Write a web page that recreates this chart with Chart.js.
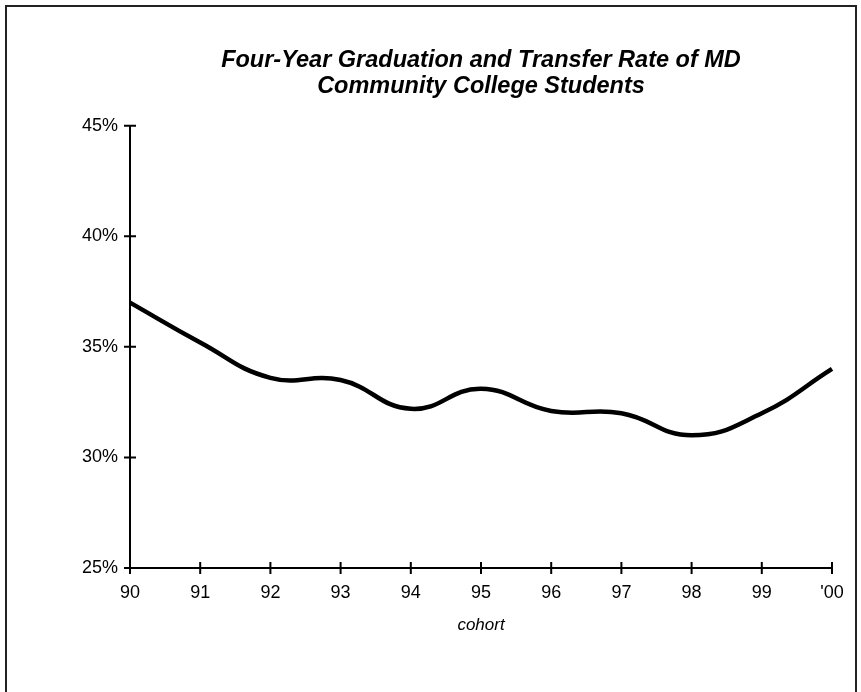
<!DOCTYPE html>
<html>
<head>
<meta charset="utf-8">
<script src="https://cdn.jsdelivr.net/npm/chart.js@4/dist/chart.umd.min.js"></script>
<style>
    html, body { margin: 0; padding: 0; background: #fff; }
    #wrap { position: relative; width: 861px; height: 692px; overflow: hidden; }
    #frame { position: absolute; left: 5px; top: 5px; width: 848px; height: 700px; border: 2px solid #222; }
    #chart { position: absolute; left: 0; top: 0; }
</style>
</head>
<body>
<div id="wrap">
    <div id="frame"></div>
    <canvas id="chart" width="861" height="692"></canvas>
</div>
<script>
// cohort years and the rate for each (%)
const cohorts = ["90", "91", "92", "93", "94", "95", "96", "97", "98", "99", "'00"];
const rates = [37.0, 35.2, 33.6, 33.5, 32.2, 33.1, 32.1, 32.0, 31.0, 32.0, 34.0];
const titleLines = ["Four-Year Graduation and Transfer Rate of MD", "Community College Students"];
const yMin = 25, yMax = 45, yStep = 5;

// ticks that cross the axis line on both sides
const crossTicks = {
    id: "crossTicks",
    afterDraw(chart) {
        const ctx = chart.ctx;
        const x = chart.scales.x, y = chart.scales.y;
        const left = chart.chartArea.left, bottom = chart.chartArea.bottom;
        ctx.save();
        ctx.strokeStyle = "#000";
        ctx.lineWidth = 2;
        ctx.beginPath();
        y.ticks.forEach((t, i) => {
            const py = y.getPixelForTick(i);
            ctx.moveTo(left - 6, py);
            ctx.lineTo(left + 6, py);
        });
        x.ticks.forEach((t, i) => {
            const px = x.getPixelForTick(i);
            ctx.moveTo(px, bottom - 6);
            ctx.lineTo(px, bottom + 6);
        });
        ctx.stroke();
        ctx.restore();
    }
};

new Chart(document.getElementById("chart"), {
    type: "line",
    data: {
        labels: cohorts,
        datasets: [{
            data: rates,
            borderColor: "#000",
            borderWidth: 4.5,
            pointRadius: 0,
            tension: 0.45,
            fill: false
        }]
    },
    options: {
        responsive: false,
        animation: false,
        layout: { padding: { left: 40, right: 29, top: 0, bottom: 57 } },
        plugins: {
            legend: { display: false },
            tooltip: { enabled: false },
            title: {
                display: true,
                fullSize: false,
                text: titleLines,
                color: "#000",
                font: { family: "Liberation Sans, Arial", size: 23.5, weight: "bold", style: "italic", lineHeight: 1.1 },
                padding: { top: 48, bottom: 26 }
            }
        },
        scales: {
            x: {
                offset: false,
                grid: { display: false, drawTicks: false },
                border: { display: true, color: "#000", width: 2 },
                ticks: { color: "#000", padding: 14, maxRotation: 0, font: { family: "Liberation Sans, Arial", size: 18 } },
                title: {
                    display: true,
                    text: "cohort",
                    color: "#000",
                    padding: { top: 11, bottom: 0 },
                    font: { family: "Liberation Sans, Arial", size: 17, style: "italic" }
                },
                afterFit(scale) { scale.height = 67; }
            },
            y: {
                min: yMin,
                max: yMax,
                grid: { display: false, drawTicks: false },
                border: { display: true, color: "#000", width: 2 },
                ticks: {
                    stepSize: yStep,
                    color: "#000",
                    padding: 12,
                    font: { family: "Liberation Sans, Arial", size: 18 },
                    callback: v => v + "%"
                },
                afterFit(scale) { scale.width = 90; }
            }
        }
    },
    plugins: [crossTicks]
});
</script>
</body>
</html>
